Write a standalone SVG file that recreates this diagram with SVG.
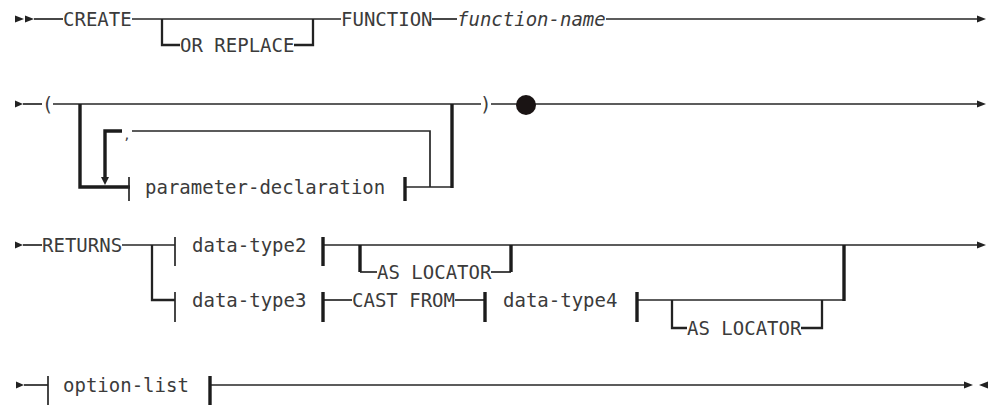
<svg xmlns="http://www.w3.org/2000/svg" width="993" height="406" viewBox="0 0 993 406">
<defs>
<style>
.bg{fill:#ffffff}
.ln{stroke:#262626;stroke-width:1.7;fill:none}
.md{stroke:#222;stroke-width:2.3;fill:none}
.tk{stroke:#1c1c1c;stroke-width:3.4;fill:none}
.ar{fill:#222;stroke:none}
.t{font-family:"DejaVu Sans Mono","Liberation Mono",monospace;font-size:19px;fill:#3b3b3b}
.i{font-style:italic}
.s{font-size:13px}
</style>
</defs>
<rect class="bg" x="0" y="0" width="993" height="406"/>

<g id="connectors">
  <!-- row 1 -->
  <polygon class="ar" points="15,15.5 24,19 15,22.5"/>
  <polygon class="ar" points="25,15.5 34,19 25,22.5"/>
  <path class="ln" d="M34,19 H63"/>
  <path class="ln" d="M132,19 H341"/>
  <path class="md" d="M162,19 V45 H180"/>
  <path class="md" d="M294,45 H313 V19"/>
  <path class="ln" d="M432,19 H457"/>
  <path class="ln" d="M606,19 H978"/>
  <polygon class="ar" points="977,15.5 986,19 977,22.5"/>

  <!-- row 2 -->
  <polygon class="ar" points="15,100.5 23,104 15,107.5"/>
  <path class="ln" d="M23,104 H42"/>
  <path class="ln" d="M53,104 H481"/>
  <path class="ln" d="M491,104 H978"/>
  <polygon class="ar" points="977,100.5 986,104 977,107.5"/>
  <path class="tk" d="M80,104 V187 H130"/>
  <path class="tk" d="M105,178 V131 H122"/>
  <polygon class="ar" points="101,177 109,177 105,185"/>
  <path class="ln" d="M132,131 H430 V187"/>
  <path class="ln" d="M405,187 H452"/>
  <path class="tk" d="M452,104 V188"/>

  <!-- row 3 -->
  <polygon class="ar" points="15,241.5 23,245 15,248.5"/>
  <path class="ln" d="M23,245 H42"/>
  <path class="ln" d="M122,245 H175"/>
  <path class="md" d="M152,245 V300 H175"/>
  <path class="ln" d="M323,245 H978"/>
  <polygon class="ar" points="977,241.5 986,245 977,248.5"/>
  <path class="tk" d="M360,245 V272"/>
  <path class="ln" d="M360,272 H377"/>
  <path class="ln" d="M491,272 H511"/>
  <path class="tk" d="M511,272 V245"/>
  <path class="ln" d="M323,300 H352"/>
  <path class="ln" d="M455,300 H485"/>
  <path class="ln" d="M637,300 H844"/>
  <path class="tk" d="M844,245 V301"/>
  <path class="md" d="M672,300 V328 H687"/>
  <path class="md" d="M801,328 H822 V300"/>

  <!-- row 4 -->
  <polygon class="ar" points="16,381.5 24,385 16,388.5"/>
  <path class="ln" d="M24,385 H48"/>
  <path class="ln" d="M210,385 H964"/>
  <polygon class="ar" points="964,381.5 973,385 964,388.5"/>
  <polygon class="ar" points="988,381.5 979,385 988,388.5"/>
</g>

<g id="create"><text class="t" x="63" y="26">CREATE</text></g>
<g id="or-replace"><text class="t" x="180" y="52">OR REPLACE</text></g>
<g id="function"><text class="t" x="341" y="26">FUNCTION</text></g>
<g id="function-name"><text class="t i" x="457" y="26">function-name</text></g>

<g id="open-paren"><text class="t" x="42" y="111">(</text></g>
<g id="close-paren"><text class="t" x="480" y="111">)</text></g>
<g id="separator"><text class="t s" x="123" y="139">,</text></g>
<g id="parameter-declaration">
  <path class="ln" d="M129,177 V201"/>
  <text class="t" x="145" y="194">parameter-declaration</text>
  <path class="tk" d="M405,177 V201"/>
</g>
<g id="end-dot"><circle cx="526" cy="105" r="10" fill="#1a1414"/></g>

<g id="returns"><text class="t" x="42" y="252">RETURNS</text></g>
<g id="data-type2">
  <path class="ln" d="M175,237 V266"/>
  <text class="t" x="192" y="252">data-type2</text>
  <path class="tk" d="M323,237 V266"/>
</g>
<g id="as-locator-1"><text class="t" x="377" y="279">AS LOCATOR</text></g>
<g id="data-type3">
  <path class="ln" d="M175,292 V322"/>
  <text class="t" x="192" y="307">data-type3</text>
  <path class="tk" d="M323,292 V322"/>
</g>
<g id="cast-from"><text class="t" x="352" y="307">CAST FROM</text></g>
<g id="data-type4">
  <path class="tk" d="M485,292 V322"/>
  <text class="t" x="503" y="307">data-type4</text>
  <path class="tk" d="M637,292 V322"/>
</g>
<g id="as-locator-2"><text class="t" x="687" y="335">AS LOCATOR</text></g>

<g id="option-list">
  <path class="ln" d="M48,376 V405"/>
  <text class="t" x="63" y="392">option-list</text>
  <path class="tk" d="M210,376 V405"/>
</g>
</svg>
